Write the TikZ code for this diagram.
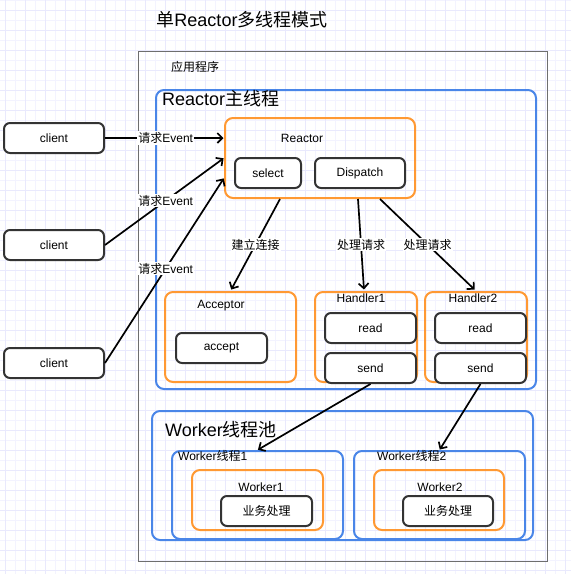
\documentclass[tikz,border=0pt]{standalone}
\usepackage{fontspec}
\setmainfont{Liberation Sans}
\newfontfamily\cjkfont{Noto Sans CJK SC}
\usetikzlibrary{arrows.meta,calc,positioning}
\definecolor{framegray}{RGB}{110,110,110}
\definecolor{boxgray}{RGB}{51,51,51}
\definecolor{threadblue}{RGB}{74,134,232}
\definecolor{partorange}{RGB}{255,153,51}
\definecolor{gridminor}{RGB}{243,243,255}
\definecolor{gridmajor}{RGB}{233,233,253}
\newcommand{\zh}[1]{{\cjkfont #1}}
\tikzstyle{element}=[
  draw=boxgray,
  fill=white,
  font={\fontsize{12}{14}\selectfont},
  inner sep=0pt,
  line width=2pt,
  minimum height=30pt,
  rectangle,
  rounded corners=6pt,
  text centered,
]
\tikzstyle{part}=[
  draw=partorange,
  inner sep=0pt,
  line width=2pt,
  rounded corners=8pt,
]
\tikzstyle{thread}=[
  draw=threadblue,
  inner sep=0pt,
  line width=2pt,
  rounded corners=8pt,
]
\tikzstyle{arrow}=[
  color=black,
  draw=black,
  line width=1.7pt,
]
\tikzstyle{arrowlabel}=[
  fill=white,
  font={\fontsize{12}{14}\selectfont},
  inner sep=1pt,
]
\tikzstyle{caption}=[
  font={\fontsize{12}{14}\selectfont},
  inner sep=0pt,
]
\tikzstyle{bigcaption}=[
  font={\fontsize{18}{21}\selectfont},
  inner sep=0pt,
]
\tikzset{
  >={Straight Barb[length=5pt,width=10pt]},
  shorten >=.5pt,
}
\begin{document}
\begin{tikzpicture}[x=1pt,y=-1pt]
    \useasboundingbox (0,0) rectangle (571,574);
    %% background grid
    \foreach \gx in {15,35,...,565} \draw [gridminor, line width=.8pt] (\gx,0) -- (\gx,574);
    \foreach \gy in {0,20,...,570} \draw [gridminor, line width=.8pt] (0,\gy) -- (571,\gy);
    \foreach \gx in {5,25,...,565} \draw [gridmajor, line width=.8pt] (\gx,0) -- (\gx,574);
    \foreach \gy in {10,30,...,570} \draw [gridmajor, line width=.8pt] (0,\gy) -- (571,\gy);
    %%
    \node (title) [bigcaption] at (242,20) {\zh{单}Reactor\zh{多线程模式}};
    \node (app) [draw=framegray, line width=1pt, minimum width=409pt, minimum height=510pt] at (342.5,306) {};
    \node (appname) [caption] at (195,67) {\zh{应用程序}};
    %%
    \node (mainthread) [thread, minimum width=380pt, minimum height=299pt] at (346,239.5) {};
    \node (mainlabel) [bigcaption, anchor=west] at ($(mainthread.north west)+(7,10)$) {Reactor\zh{主线程}};
    %%
    \node (reactor) [part, minimum width=190pt, minimum height=80pt] at (320,158) {};
    \node (reactorlabel) [caption] at (302,138) {Reactor};
    \node (select) [element, minimum width=66pt] at (268,173) {select};
    \node (dispatch) [element, minimum width=90pt] at (360,173) {Dispatch};
    %%
    \node (acceptor) [part, minimum width=131pt, minimum height=90pt] at (230.5,337) {};
    \node (acceptorlabel) [caption] at (221,306) {Acceptor};
    \node (accept) [element, minimum width=91pt] at (221.5,348) {accept};
    %%
    \node (handler1) [part, minimum width=102pt, minimum height=90pt] at (366,337) {};
    \node (handler1label) [caption] at (361,298) {Handler1};
    \node (read1) [element, minimum width=91pt] at (370.5,328) {read};
    \node (send1) [element, minimum width=91pt, below=8pt of read1] {send};
    %%
    \node (handler2) [part, minimum width=102pt, minimum height=90pt] at (476,337) {};
    \node (handler2label) [caption] at (473,298) {Handler2};
    \node (read2) [element, minimum width=91pt] at (480.5,328) {read};
    \node (send2) [element, minimum width=91pt, below=8pt of read2] {send};
    %%
    \node (pool) [thread, minimum width=381pt, minimum height=129pt] at (342.5,475.5) {};
    \node (poollabel) [bigcaption, anchor=west] at ($(pool.north west)+(14,20)$) {Worker\zh{线程池}};
    \node (wt1) [thread, minimum width=171pt, minimum height=88pt] at (257.5,495) {};
    \node (wt1label) [caption, anchor=west] at ($(wt1.north west)+(7,6)$) {Worker\zh{线程}1};
    \node (wt2) [thread, minimum width=171pt, minimum height=88pt] at (439.5,495) {};
    \node (wt2label) [caption, anchor=west] at ($(wt2.north west)+(24,6)$) {Worker\zh{线程}2};
    %%
    \node (worker1) [part, minimum width=131pt, minimum height=60pt] at (257.5,500) {};
    \node (worker1label) [caption] at (261,487) {Worker1};
    \node (biz1) [element, minimum width=91pt] at (266.5,511) {\zh{业务处理}};
    \node (worker2) [part, minimum width=130pt, minimum height=60pt] at (439,500) {};
    \node (worker2label) [caption] at (440,487) {Worker2};
    \node (biz2) [element, minimum width=90pt] at (448,511) {\zh{业务处理}};
    %%
    \node (client1) [element, minimum width=100pt] at (54,138) {client};
    \node (client2) [element, minimum width=100pt] at (54,245) {client};
    \node (client3) [element, minimum width=100pt] at (54,363) {client};
    %%
    \coordinate (R1) at (client1.east -| reactor.west);
    \coordinate (R3) at ($(reactor.south west)+(0,-21)$);
    \draw [->, arrow] (client1.east) -- node [arrowlabel, pos=.51] {\zh{请求}Event} (R1);
    \draw [->, arrow] (client2.east) -- node [arrowlabel, pos=.51] {\zh{请求}Event} (reactor.west);
    \draw [->, arrow] (client3.east) -- node [arrowlabel, pos=.51] {\zh{请求}Event} (R3);
    %%
    \draw [->, arrow] ($(reactor.south west)+(56,0)$) -- node [arrowlabel] {\zh{建立连接}}
                      ($(acceptor.north west)+(67,-1)$);
    \draw [->, arrow] ($(reactor.south west)+(134,0)$) -- node [arrowlabel] {\zh{处理请求}}
                      ($(handler1.north)+(-2,-1)$);
    \draw [->, arrow] ($(reactor.south west)+(156,0)$) -- node [arrowlabel] {\zh{处理请求}}
                      ($(handler2.north)+(-1,-1)$);
    %%
    \draw [->, arrow] (send1.south) -- (wt1.north);
    \draw [->, arrow] (send2.south) -- (wt2.north);
  \end{tikzpicture}
\end{document}
